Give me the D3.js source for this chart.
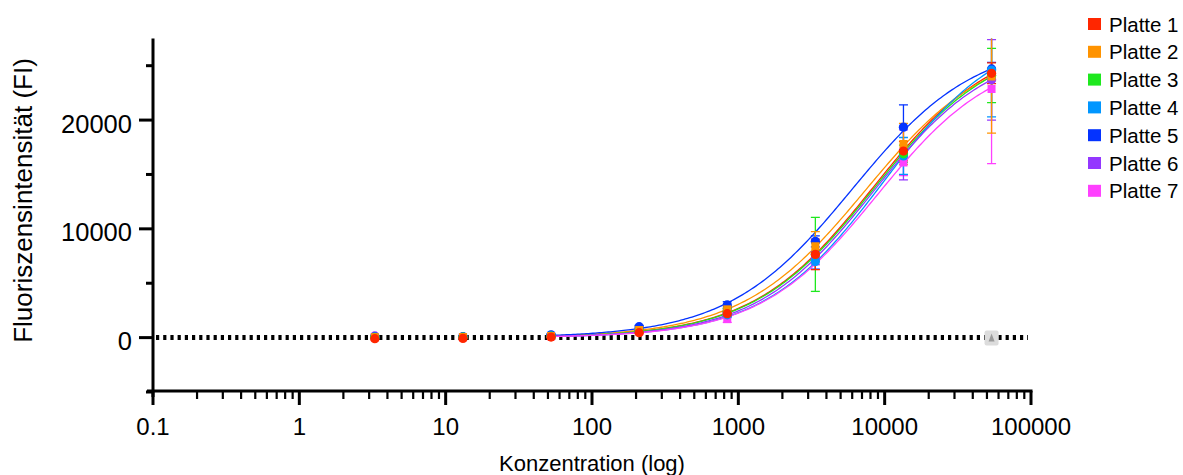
<!DOCTYPE HTML>
<meta charset="utf-8">
<html>
	<head>
		<script src="https://d3js.org/d3.v7.min.js"></script>
		<style>
			body
			{
				margin: 0;
				background: #fff;
				font-family: 'Liberation Sans', Arial, sans-serif;
			}
		</style>
	</head>
	<body>
		<svg width="1183" height="475"></svg>

		<script>

		// Data

		var concentrations = [3.28, 13.125, 52.5, 210, 840, 3360, 13440, 53760];

		var seriesNames = ["Platte 1", "Platte 2", "Platte 3", "Platte 4", "Platte 5", "Platte 6", "Platte 7"];
		var seriesColors = ["#ff2600", "#ff9300", "#1ee81e", "#0096ff", "#0433ff", "#9437ff", "#ff40ff"];
		var seriesSymbols = ["circle", "square", "circle", "circle", "circle", "circle", "square"];

		// mean fluorescence per concentration
		var meanP1 = [-100, -70, 50, 450, 2200, 7650, 17150, 24300];
		var meanP2 = [40, 50, 140, 700, 2600, 8400, 17800, 24000];
		var meanP3 = [30, 40, 130, 650, 2400, 7650, 16900, 24100];
		var meanP4 = [40, 50, 150, 600, 2100, 7000, 16700, 24600];
		var meanP5 = [60, 70, 260, 1000, 3000, 8850, 19350, 24700];
		var meanP6 = [150, 100, 200, 700, 2300, 7300, 16800, 23700];
		var meanP7 = [30, 40, 120, 550, 1700, 7100, 16100, 22850];

		// standard deviation per concentration
		var sdP1 = [0, 0, 60, 80, 250, 1400, 900, 950];
		var sdP2 = [0, 0, 60, 100, 350, 1350, 1900, 5200];
		var sdP3 = [0, 0, 50, 100, 300, 3400, 800, 2500];
		var sdP4 = [0, 0, 50, 100, 250, 700, 1700, 4300];
		var sdP5 = [0, 0, 60, 120, 300, 500, 2050, 600];
		var sdP6 = [0, 0, 50, 100, 300, 600, 2300, 3700];
		var sdP7 = [0, 0, 50, 100, 300, 800, 1200, 6850];

		// four parameter logistic fit per plate
		var fitBottom = [0, 0, 0, 0, 0, 0, 0];
		var fitTop = [27620, 27120, 27440, 28560, 27300, 26890, 26320];
		var fitEC50 = [8340, 7400, 8450, 9760, 6000, 8380, 8955];
		var fitHill = [1.05, 1.03, 1.05, 1.07, 1.03, 1.08, 1.08];
		var fitRange = [52.5, 53760];

		// excluded point shown in grey
		var excludedPoint = [53760, 0];

		var xTickValues = [0.1, 1, 10, 100, 1000, 10000, 100000];
		var yTickValues = [0, 10000, 20000];
		var yMinorTickValues = [-5000, 5000, 15000, 25000];

		var means = [meanP1, meanP2, meanP3, meanP4, meanP5, meanP6, meanP7];
		var sds = [sdP1, sdP2, sdP3, sdP4, sdP5, sdP6, sdP7];

		// Chart

		var canvas = d3.select("svg");

		var x = d3.scaleLog()
				.domain([0.1, 100000])
				.range([153, 1031]);

		var y = d3.scaleLinear()
				.domain([-5000, 27500])
				.range([392, 38.5]);

		var axisColor = "#000";

		// clip for data to the plot area
		canvas.append("defs").append("clipPath")
				.attr("id", "clip")
			.append("rect")
				.attr("x", x(0.1))
				.attr("y", y(27500))
				.attr("width", x(100000) - x(0.1) + 10)
				.attr("height", y(-5000) - y(27500));

		// dotted zero line
		canvas.append("line")
				.attr("x1", x(0.1) + 3)
				.attr("x2", x(100000) - 3)
				.attr("y1", y(0))
				.attr("y2", y(0))
				.attr("stroke", "#000")
				.attr("stroke-width", 5)
				.attr("stroke-dasharray", "3.2 4");

		var plot = canvas.append("g").attr("clip-path", "url(#clip)");

		// fitted curves
		var line = d3.line()
				.x(function(d) { return x(d[0]); })
				.y(function(d) { return y(d[1]); });

		var logMin = Math.log10(fitRange[0]);
		var logMax = Math.log10(fitRange[1]);
		var curveSteps = d3.range(0, 201).map(function(i) { return Math.pow(10, logMin + (logMax - logMin) * i / 200); });

		seriesNames.forEach(function(name, s) {
			var pts = curveSteps.map(function(c) {
				var v = fitBottom[s] + (fitTop[s] - fitBottom[s]) / (1 + Math.pow(fitEC50[s] / c, fitHill[s]));
				return [c, v];
			});
			plot.append("path")
					.datum(pts)
					.attr("fill", "none")
					.attr("stroke", seriesColors[s])
					.attr("stroke-width", 1.3)
					.attr("d", line);
		});

		// error bars
		var capHalf = 4.5;
		for (var s = seriesNames.length - 1; s >= 0; s--)
		{
			var g = plot.append("g")
					.attr("stroke", seriesColors[s])
					.attr("stroke-width", 1.3);
			concentrations.forEach(function(c, i) {
				var sd = sds[s][i];
				if (sd <= 0) return;
				var cx = x(c);
				var top = y(means[s][i] + sd);
				var bot = y(means[s][i] - sd);
				g.append("line").attr("x1", cx).attr("x2", cx).attr("y1", top).attr("y2", bot);
				g.append("line").attr("x1", cx - capHalf).attr("x2", cx + capHalf).attr("y1", top).attr("y2", top);
				g.append("line").attr("x1", cx - capHalf).attr("x2", cx + capHalf).attr("y1", bot).attr("y2", bot);
			});
		}

		// points, first plate drawn last so it is on top
		for (var s = seriesNames.length - 1; s >= 0; s--)
		{
			var sym = d3.symbol()
					.type(seriesSymbols[s] == "square" ? d3.symbolSquare : d3.symbolCircle)
					.size(seriesSymbols[s] == "square" ? 64 : 68);
			plot.append("g").selectAll("path")
					.data(concentrations)
				.join("path")
					.attr("d", sym)
					.attr("transform", function(c, i) { return "translate(" + x(c) + "," + y(means[s][i]) + ")"; })
					.attr("fill", seriesColors[s]);
		}

		// excluded point
		var ex = canvas.append("g")
				.attr("transform", "translate(" + x(excludedPoint[0]) + "," + y(excludedPoint[1]) + ")");
		ex.append("rect")
				.attr("x", -7).attr("y", -7)
				.attr("width", 14).attr("height", 15)
				.attr("rx", 2)
				.attr("fill", "#dcdcdc");
		ex.append("path")
				.attr("d", "M-3,4 L0,-4 L3,4 Z")
				.attr("fill", "#9a9a9a");

		// Axes

		var axisWidth = 3;

		// y axis
		canvas.append("line")
				.attr("x1", x(0.1)).attr("x2", x(0.1))
				.attr("y1", y(27500)).attr("y2", 397)
				.attr("stroke", axisColor).attr("stroke-width", axisWidth);

		canvas.append("g").selectAll("line")
				.data(yTickValues)
			.join("line")
				.attr("x1", x(0.1) - 14).attr("x2", x(0.1))
				.attr("y1", function(d) { return y(d); })
				.attr("y2", function(d) { return y(d); })
				.attr("stroke", axisColor).attr("stroke-width", axisWidth);

		canvas.append("g").selectAll("line")
				.data(yMinorTickValues)
			.join("line")
				.attr("x1", x(0.1) - 7).attr("x2", x(0.1))
				.attr("y1", function(d) { return y(d); })
				.attr("y2", function(d) { return y(d); })
				.attr("stroke", axisColor).attr("stroke-width", axisWidth);

		canvas.append("g").selectAll("text")
				.data(yTickValues)
			.join("text")
				.attr("x", x(0.1) - 21)
				.attr("y", function(d) { return y(d) + 12.5; })
				.attr("text-anchor", "end")
				.attr("font-size", 25.5)
				.attr("fill", "#000")
				.text(function(d) { return d; });

		// x axis
		canvas.append("line")
				.attr("x1", x(0.1) - 6).attr("x2", x(100000) + 1.5)
				.attr("y1", 391).attr("y2", 391)
				.attr("stroke", axisColor).attr("stroke-width", axisWidth);

		var xMinorTickValues = [];
		for (var decade = 0.1; decade < 100000; decade *= 10)
		{
			for (var k = 2; k <= 9; k++) xMinorTickValues.push(decade * k);
		}

		canvas.append("g").selectAll("line")
				.data(xTickValues)
			.join("line")
				.attr("x1", function(d) { return x(d); })
				.attr("x2", function(d) { return x(d); })
				.attr("y1", 391).attr("y2", 405)
				.attr("stroke", axisColor).attr("stroke-width", axisWidth);

		canvas.append("g").selectAll("line")
				.data(xMinorTickValues)
			.join("line")
				.attr("x1", function(d) { return x(d); })
				.attr("x2", function(d) { return x(d); })
				.attr("y1", 391).attr("y2", 399)
				.attr("stroke", axisColor).attr("stroke-width", 2.2);

		canvas.append("g").selectAll("text")
				.data(xTickValues)
			.join("text")
				.attr("x", function(d) { return x(d); })
				.attr("y", 435)
				.attr("text-anchor", "middle")
				.attr("font-size", 24)
				.attr("fill", "#000")
				.text(function(d) { return d; });

		// axis titles
		canvas.append("text")
				.attr("x", (x(0.1) + x(100000)) / 2)
				.attr("y", 471)
				.attr("text-anchor", "middle")
				.attr("font-size", 22)
				.attr("fill", "#000")
				.text("Konzentration (log)");

		canvas.append("text")
				.attr("transform", "translate(32,200.5) rotate(-90)")
				.attr("text-anchor", "middle")
				.attr("font-size", 26)
				.attr("fill", "#000")
				.text("Fluoriszensintensität (FI)");

		// Legend

		var legend = canvas.append("g")
				.attr("transform", "translate(1088,24)");

		var legendRows = legend.selectAll("g")
				.data(seriesNames)
			.join("g")
				.attr("transform", function(d, i) { return "translate(0," + (i * 27.8) + ")"; });

		legendRows.append("rect")
				.attr("x", 0).attr("y", -6)
				.attr("width", 13).attr("height", 12)
				.attr("fill", function(d, i) { return seriesColors[i]; });

		legendRows.append("text")
				.attr("x", 21)
				.attr("y", 7.5)
				.attr("font-size", 20.5)
				.attr("fill", "#000")
				.text(function(d) { return d; });

		</script>
	</body>
</html>
